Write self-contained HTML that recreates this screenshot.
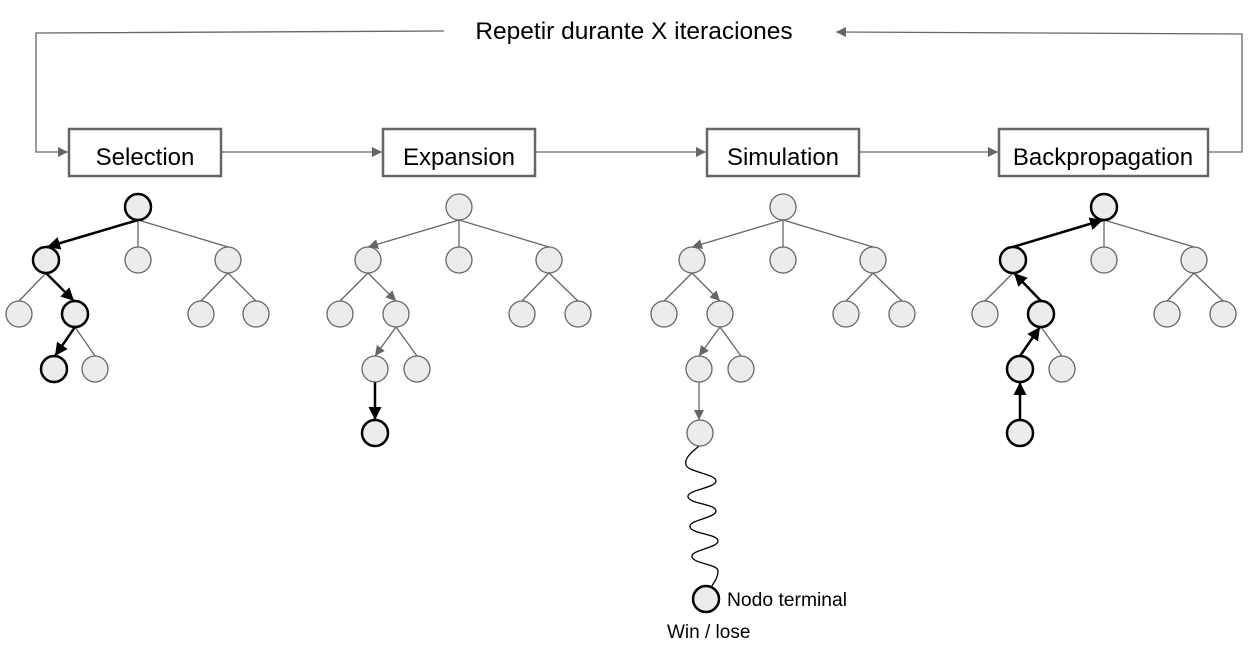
<!DOCTYPE html>
<html><head><meta charset="utf-8"><style>
html,body{margin:0;padding:0;background:#fff;}
svg{display:block;font-family:"Liberation Sans",Arial,sans-serif;}
</style></head><body>
<svg width="1249" height="653" viewBox="0 0 1249 653" xmlns="http://www.w3.org/2000/svg">
<defs>
<marker id="ag" viewBox="0 0 10 10" refX="10" refY="5" markerWidth="10" markerHeight="10" markerUnits="userSpaceOnUse" orient="auto"><path d="M0,0 L10,5 L0,10 z" fill="#666"/></marker>
<marker id="ab" viewBox="0 0 10 10" refX="10" refY="5" markerWidth="13" markerHeight="13" markerUnits="userSpaceOnUse" orient="auto"><path d="M0,0 L10,5 L0,10 z" fill="#000"/></marker>
</defs>
<rect width="1249" height="653" fill="#fff"/>
<g stroke="#666" stroke-width="1.3" fill="none">
<polyline points="444,31 36,33 36,152 68,152" marker-end="url(#ag)"/>
<polyline points="1209,152 1242,152 1242,34 836,32" marker-end="url(#ag)"/>
<line x1="222" y1="152" x2="382" y2="152" marker-end="url(#ag)"/>
<line x1="536" y1="152" x2="706" y2="152" marker-end="url(#ag)"/>
<line x1="860" y1="152" x2="998" y2="152" marker-end="url(#ag)"/>
</g>
<text x="634" y="39" font-size="24.5" text-anchor="middle" fill="#000">Repetir durante X iteraciones</text>
<g fill="#fff" stroke="#666" stroke-width="2.5">
<rect x="69" y="129" width="152" height="47"/>
<rect x="383" y="129" width="152" height="47"/>
<rect x="707" y="129" width="152" height="47"/>
<rect x="999" y="129" width="209" height="47"/>
</g>
<g font-size="24" text-anchor="middle" fill="#000">
<text x="145" y="165">Selection</text>
<text x="459" y="165">Expansion</text>
<text x="783" y="165">Simulation</text>
<text x="1103" y="165">Backpropagation</text>
</g>
<g stroke="#666" stroke-width="1.3" fill="none">
<line x1="138" y1="220" x2="138" y2="247"/><line x1="138" y1="220" x2="228" y2="247"/>
<line x1="46" y1="273" x2="19" y2="301"/><line x1="228" y1="273" x2="201" y2="301"/><line x1="228" y1="273" x2="256" y2="301"/>
<line x1="75" y1="327" x2="95" y2="356"/>

<line x1="459" y1="220" x2="459" y2="247"/><line x1="459" y1="220" x2="549" y2="247"/>
<line x1="368" y1="273" x2="340" y2="301"/><line x1="549" y1="273" x2="522" y2="301"/><line x1="549" y1="273" x2="578" y2="301"/>
<line x1="396" y1="327" x2="417" y2="356"/>
<line x1="459" y1="220" x2="368" y2="247" marker-end="url(#ag)"/>
<line x1="368" y1="273" x2="396" y2="301" marker-end="url(#ag)"/>
<line x1="396" y1="327" x2="375" y2="356" marker-end="url(#ag)"/>

<line x1="783" y1="220" x2="783" y2="247"/><line x1="783" y1="220" x2="873" y2="247"/>
<line x1="692" y1="273" x2="664" y2="301"/><line x1="873" y1="273" x2="846" y2="301"/><line x1="873" y1="273" x2="902" y2="301"/>
<line x1="720" y1="327" x2="741" y2="356"/>
<line x1="783" y1="220" x2="692" y2="247" marker-end="url(#ag)"/>
<line x1="692" y1="273" x2="720" y2="301" marker-end="url(#ag)"/>
<line x1="720" y1="327" x2="699" y2="356" marker-end="url(#ag)"/>
<line x1="699" y1="382" x2="699" y2="420" marker-end="url(#ag)"/>

<line x1="1104" y1="220" x2="1104" y2="247"/><line x1="1104" y1="220" x2="1194" y2="247"/>
<line x1="1013" y1="273" x2="985" y2="301"/><line x1="1194" y1="273" x2="1167" y2="301"/><line x1="1194" y1="273" x2="1223" y2="301"/>
<line x1="1041" y1="327" x2="1062" y2="356"/>
</g>
<g stroke="#000" stroke-width="2.5" fill="none">
<line x1="138" y1="220" x2="47" y2="247" marker-end="url(#ab)"/>
<line x1="46" y1="273" x2="74" y2="301" marker-end="url(#ab)"/>
<line x1="75" y1="327" x2="55" y2="356" marker-end="url(#ab)"/>
<line x1="375" y1="382" x2="375" y2="420" marker-end="url(#ab)"/>
<line x1="1020" y1="420" x2="1020" y2="382" marker-end="url(#ab)"/>
<line x1="1020" y1="356" x2="1040" y2="327" marker-end="url(#ab)"/>
<line x1="1041" y1="301" x2="1014" y2="273" marker-end="url(#ab)"/>
<line x1="1013" y1="247" x2="1103" y2="220" marker-end="url(#ab)"/>
</g>
<path d="M699,446 C692,452 684,458 686,465 S716,474 716,481 S686,490 688,497 S716,504 716,511 S688,520 690,527 S718,534 718,541 S690,550 692,557 S718,564 718,571 S714,582 712,586" stroke="#000" stroke-width="1.3" fill="none"/>
<g fill="#ececec" stroke="#666" stroke-width="1.3">
<circle cx="138" cy="260" r="13"/><circle cx="228" cy="260" r="13"/>
<circle cx="19" cy="314" r="13"/><circle cx="201" cy="314" r="13"/><circle cx="256" cy="314" r="13"/>
<circle cx="95" cy="369" r="13"/>
<circle cx="459" cy="207" r="13"/><circle cx="368" cy="260" r="13"/><circle cx="459" cy="260" r="13"/><circle cx="549" cy="260" r="13"/>
<circle cx="340" cy="314" r="13"/><circle cx="396" cy="314" r="13"/><circle cx="522" cy="314" r="13"/><circle cx="578" cy="314" r="13"/>
<circle cx="375" cy="369" r="13"/><circle cx="417" cy="369" r="13"/>
<circle cx="783" cy="207" r="13"/><circle cx="692" cy="260" r="13"/><circle cx="783" cy="260" r="13"/><circle cx="873" cy="260" r="13"/>
<circle cx="664" cy="314" r="13"/><circle cx="720" cy="314" r="13"/><circle cx="846" cy="314" r="13"/><circle cx="902" cy="314" r="13"/>
<circle cx="699" cy="369" r="13"/><circle cx="741" cy="369" r="13"/><circle cx="700" cy="433" r="13"/>
<circle cx="1104" cy="260" r="13"/><circle cx="1194" cy="260" r="13"/>
<circle cx="985" cy="314" r="13"/><circle cx="1167" cy="314" r="13"/><circle cx="1223" cy="314" r="13"/>
<circle cx="1062" cy="369" r="13"/>
</g>
<g fill="#ececec" stroke="#000" stroke-width="2.5">
<circle cx="138" cy="207" r="13"/><circle cx="46" cy="260" r="13"/><circle cx="75" cy="314" r="13"/><circle cx="54" cy="369" r="13"/>
<circle cx="375" cy="433" r="13"/>
<circle cx="706" cy="599" r="13"/>
<circle cx="1104" cy="207" r="13"/><circle cx="1013" cy="260" r="13"/><circle cx="1041" cy="314" r="13"/><circle cx="1020" cy="369" r="13"/><circle cx="1020" cy="433" r="13"/>
</g>
<text x="727" y="606" font-size="19.3" fill="#000">Nodo terminal</text>
<text x="667" y="638" font-size="19" fill="#000">Win / lose</text>
</svg>
</body></html>
